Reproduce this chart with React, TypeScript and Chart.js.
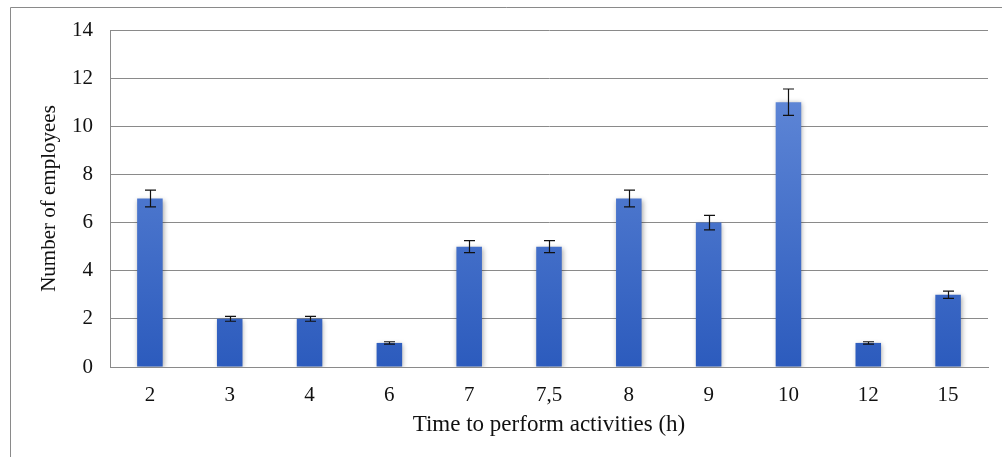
import React, { useEffect, useRef } from "react";
import { Chart, registerables } from "chart.js";

Chart.register(...registerables);

const categories: string[] = ["2", "3", "4", "6", "7", "7,5", "8", "9", "10", "12", "15"];
const employees: number[] = [7, 2, 2, 1, 5, 5, 7, 6, 11, 1, 3];
const errors: number[] = [0.35, 0.1, 0.1, 0.05, 0.25, 0.25, 0.35, 0.3, 0.55, 0.05, 0.15];
const yTicks: number[] = [0, 2, 4, 6, 8, 10, 12, 14];
const xTitle = "Time to perform activities (h)";
const yTitle = "Number of employees";

const FONT = "'Liberation Serif', 'Times New Roman', serif";

const errorBarPlugin = {
  id: "errorBars",
  afterDatasetsDraw(chart: any) {
    const ctx = chart.ctx;
    const meta = chart.getDatasetMeta(0);
    const y = chart.scales.y;
    ctx.save();
    ctx.strokeStyle = "#111";
    ctx.lineWidth = 1.2;
    meta.data.forEach((bar: any, i: number) => {
      const v = employees[i];
      const e = errors[i];
      const x = Math.round(bar.x) + 0.5;
      const yt = y.getPixelForValue(v + e);
      const yb = y.getPixelForValue(v - e);
      const cap = 5.5;
      ctx.beginPath();
      ctx.moveTo(x, yt);
      ctx.lineTo(x, yb);
      ctx.moveTo(x - cap, yt);
      ctx.lineTo(x + cap, yt);
      ctx.moveTo(x - cap, yb);
      ctx.lineTo(x + cap, yb);
      ctx.stroke();
    });
    ctx.restore();
  },
};

const shadowPlugin = {
  id: "barShadow",
  beforeDatasetsDraw(chart: any) {
    const ctx = chart.ctx;
    ctx.save();
    ctx.shadowColor = "rgba(0,0,0,0.35)";
    ctx.shadowBlur = 5;
    ctx.shadowOffsetX = 1;
    ctx.shadowOffsetY = 1;
  },
  afterDatasetsDraw(chart: any) {
    chart.ctx.restore();
  },
};

const framePlugin = {
  id: "frame",
  beforeDraw(chart: any) {
    const ctx = chart.ctx;
    ctx.save();
    ctx.strokeStyle = "#8a8a8a";
    ctx.lineWidth = 1;
    ctx.beginPath();
    ctx.moveTo(10.5, chart.height);
    ctx.lineTo(10.5, 7.5);
    ctx.lineTo(chart.width, 7.5);
    ctx.stroke();
    ctx.restore();
  },
};

export default function App() {
  const ref = useRef<HTMLCanvasElement | null>(null);

  useEffect(() => {
    if (!ref.current) return;
    const chart = new Chart(ref.current, {
      type: "bar",
      data: {
        labels: categories,
        datasets: [
          {
            data: employees,
            backgroundColor: (c: any) => {
              const area = c.chart.chartArea;
              if (!area) return "#4472C4";
              const g = c.chart.ctx.createLinearGradient(0, area.top, 0, area.bottom);
              g.addColorStop(0, "#6a90dc");
              g.addColorStop(1, "#2c5bbd");
              return g;
            },
            borderWidth: 0,
            barPercentage: 0.32,
            categoryPercentage: 1,
          },
        ],
      },
      options: {
        responsive: false,
        animation: false,
        layout: { padding: { top: 30, right: 14, left: 0, bottom: 0 } },
        plugins: {
          legend: { display: false },
          tooltip: { enabled: false },
        },
        scales: {
          x: {
            grid: { display: false, drawTicks: false },
            border: { display: true, color: "#8a8a8a", width: 1 },
            ticks: {
              color: "#111",
              font: { family: FONT, size: 21 },
              padding: 16,
              maxRotation: 0,
            },
            title: {
              display: true,
              text: xTitle,
              color: "#111",
              font: { family: FONT, size: 23 },
              padding: { top: 0, bottom: 18 },
            },
            afterFit: (s: any) => {
              s.height = 90;
            },
          },
          y: {
            min: 0,
            max: 14,
            afterBuildTicks: (s: any) => {
              s.ticks = yTicks.map((v) => ({ value: v }));
            },
            grid: { color: "#8a8a8a", lineWidth: 1, drawTicks: false },
            border: { display: true, color: "#8a8a8a", width: 1 },
            ticks: {
              color: "#111",
              font: { family: FONT, size: 21 },
              padding: 17,
            },
            title: {
              display: true,
              text: yTitle,
              color: "#111",
              font: { family: FONT, size: 21 },
              padding: { top: 37, bottom: 0 },
            },
            afterFit: (s: any) => {
              s.width = 110;
            },
          },
        },
      },
      plugins: [framePlugin, shadowPlugin, errorBarPlugin],
    });
    return () => chart.destroy();
  }, []);

  return (
    <div style={{ position: "absolute", left: 0, top: 0, width: 1002, height: 457, background: "#fff" }}>
      <canvas ref={ref} width={1002} height={457} style={{ display: "block" }} />
    </div>
  );
}
